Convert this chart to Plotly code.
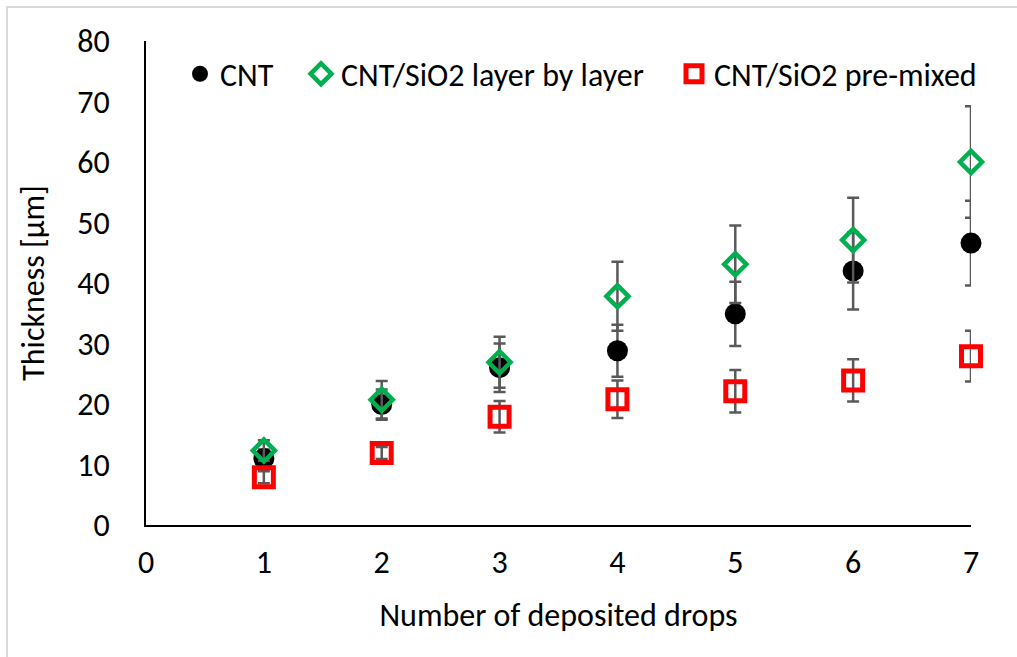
import plotly.graph_objects as go

drops = [1, 2, 3, 4, 5, 6, 7]
cnt = [11.0, 19.9, 26.0, 28.8, 34.9, 42.0, 46.6]
cnt_err = [1.5, 2.5, 4.0, 4.3, 5.3, 6.4, 7.0]
lbl = [12.3, 20.7, 26.9, 37.8, 43.1, 47.1, 60.0]
lbl_err = [1.7, 3.1, 4.2, 5.7, 6.4, 7.0, 9.2]
pre = [7.9, 11.9, 17.9, 20.8, 22.1, 23.9, 27.9]
pre_err = [1.0, 1.0, 2.6, 3.1, 3.5, 3.5, 4.2]

names = ["CNT", "CNT/SiO2 layer by layer", "CNT/SiO2 pre-mixed"]
x_ticks = [0, 1, 2, 3, 4, 5, 6, 7]
y_ticks = [0, 10, 20, 30, 40, 50, 60, 70, 80]

FONT = "Carlito, Lato, sans-serif"
FS = 32
ERR_COLOR = "#595959"

fig = go.Figure()
fig.add_trace(go.Scatter(
    x=drops, y=cnt, mode="markers", name=names[0], legend="legend",
    marker=dict(symbol="circle", size=21, color="#000000", line=dict(width=0)),
    error_y=dict(type="data", array=cnt_err, color=ERR_COLOR, thickness=2.5, width=6),
    cliponaxis=False,
))
fig.add_trace(go.Scatter(
    x=drops, y=lbl, mode="markers", name=names[1], legend="legend2",
    marker=dict(symbol="diamond-open", size=17, color="#00B050", line=dict(width=4.5, color="#00B050")),
    error_y=dict(type="data", array=lbl_err, color=ERR_COLOR, thickness=2.5, width=6),
    cliponaxis=False,
))
fig.add_trace(go.Scatter(
    x=drops, y=pre, mode="markers", name=names[2], legend="legend3",
    marker=dict(symbol="square-open", size=19, color="#FF0000", line=dict(width=5, color="#FF0000")),
    error_y=dict(type="data", array=pre_err, color=ERR_COLOR, thickness=2.5, width=6),
    cliponaxis=False,
))

L, R, T, B = 146, 46, 41, 132
W, H = 1017, 657
pw, ph = W - L - R, H - T - B


def leg(left_px):
    return dict(
        orientation="h", x=(left_px - L) / pw, xanchor="left",
        y=(H - B - 74) / ph, yanchor="middle",
        font=dict(family=FONT, size=FS, color="#000000"),
        bgcolor="rgba(0,0,0,0)", itemclick=False, itemdoubleclick=False,
    )


fig.update_layout(
    width=W, height=H,
    margin=dict(l=L, r=R, t=T, b=B, autoexpand=False),
    paper_bgcolor="white", plot_bgcolor="white",
    font=dict(family=FONT, size=FS, color="#000000"),
    showlegend=True,
    legend=leg(180), legend2=leg(301), legend3=leg(674),
    xaxis=dict(
        range=[0, 7], tickvals=x_ticks, ticktext=[str(v) for v in x_ticks],
        showgrid=False, zeroline=False, showline=True, linecolor="#000000", linewidth=2,
        ticks="", ticklabelstandoff=8, tickfont=dict(family=FONT, size=FS),
        title=dict(text="Number of deposited drops", standoff=22,
                   font=dict(family=FONT, size=FS)),
        automargin=False,
    ),
    yaxis=dict(
        range=[0, 80], tickvals=y_ticks, ticktext=[str(v) for v in y_ticks],
        showgrid=False, zeroline=False, showline=True, linecolor="#000000", linewidth=2,
        ticks="", ticklabelstandoff=28, tickfont=dict(family=FONT, size=FS),
        title=dict(text="Thickness [µm]", standoff=23,
                   font=dict(family=FONT, size=FS)),
        automargin=False,
    ),
    shapes=[dict(
        type="rect", xref="paper", yref="paper",
        x0=(7 - L) / pw, x1=(W + 20 - L) / pw,
        y0=-(B + 20) / ph, y1=(H - B - 7) / ph,
        line=dict(color="#D9D9D9", width=2), fillcolor="rgba(0,0,0,0)", layer="below",
    )],
)

fig.write_html("out.html")
